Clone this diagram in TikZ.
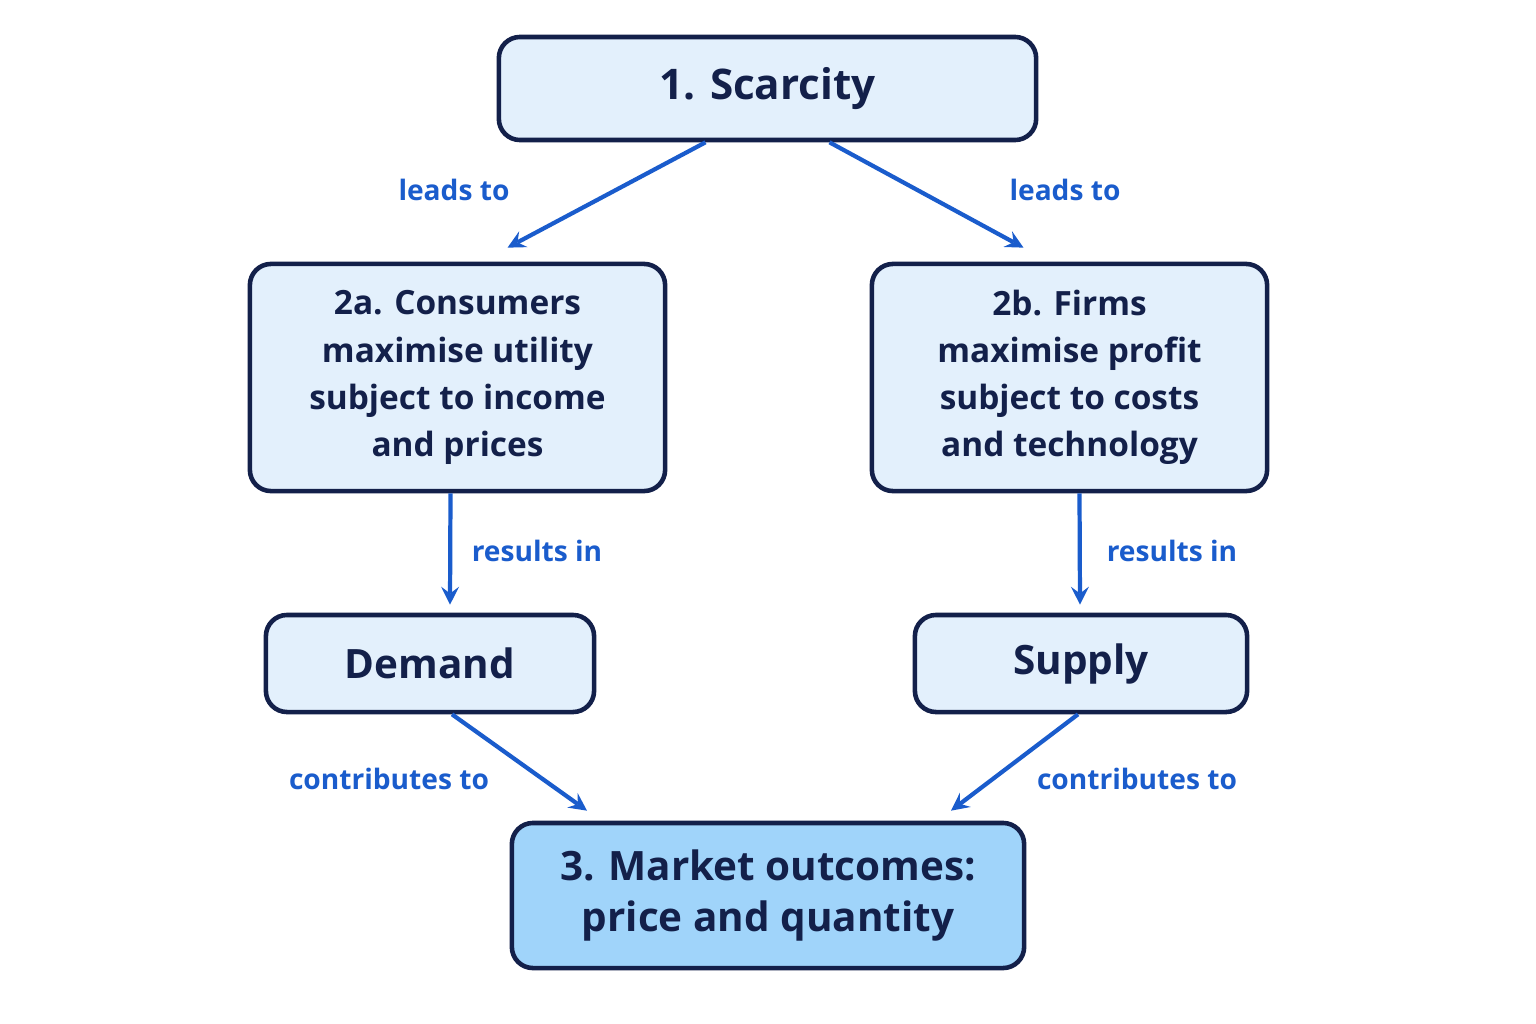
\documentclass[tikz,border=0pt]{standalone}
\usepackage{fontspec}
\setmainfont{Open Sans}
\usetikzlibrary{calc}
\definecolor{kNavy}{HTML}{13204A}
\definecolor{kFill}{HTML}{E3F0FC}
\definecolor{kMarket}{HTML}{A0D4FA}
\definecolor{kBlue}{HTML}{1A5CCC}
\tikzset{
  box/.style={draw=kNavy,line width=1.3pt,rounded corners=6pt,fill=kFill,
    text=kNavy,font=\bfseries,align=center,inner sep=0pt},
  link/.style={draw=kBlue,line width=1.2pt,->,>=stealth},
  tag/.style={text=kBlue,font=\fontsize{8}{10}\selectfont\bfseries}
}
\begin{document}
\begin{tikzpicture}[x=0.01cm,y=-0.01cm]
  \useasboundingbox (0,0) rectangle (1536,1024);
  % boxes
  \node[box,minimum width=5.37cm,minimum height=1.03cm,font=\fontsize{12}{14}\selectfont\bfseries] (scar) at (767.5,88.5) {1. Scarcity};
  \node[box,minimum width=4.15cm,minimum height=2.27cm,font=\fontsize{9.5}{13.4}\selectfont\bfseries] (cons) at (457.5,377.5)
    {2a. Consumers\\maximise utility\\subject to income\\and prices};
  \node[box,minimum width=3.95cm,minimum height=2.27cm,font=\fontsize{9.5}{13.4}\selectfont\bfseries] (firm) at (1069.5,377.5)
    {2b. Firms\\maximise profit\\subject to costs\\and technology};
  \node[box,minimum width=3.28cm,minimum height=0.97cm,font=\fontsize{11.5}{14}\selectfont\bfseries] (dem) at (430,663.5) {Demand};
  \node[box,minimum width=3.32cm,minimum height=0.97cm,font=\fontsize{11.5}{14}\selectfont\bfseries] (sup) at (1081,663.5) {Supply};
  \node[box,fill=kMarket,minimum width=5.12cm,minimum height=1.45cm,font=\fontsize{11.5}{14.5}\selectfont\bfseries] (mkt) at (768,895.5)
    {3. Market outcomes:\\price and quantity};
  % connectors
  \draw[link] ($(scar.south)+(-62,0)$) -- ($(cons.north)+(50,-14)$);
  \draw[link] ($(scar.south)+(62,0)$) -- ($(firm.north)+(-46,-14)$);
  \draw[link] ($(cons.south)+(-7,0)$) -- ($(dem.north)+(20,-8)$);
  \draw[link] ($(firm.south)+(10,0)$) -- ($(sup.north)+(-1,-8)$);
  \draw[link] ($(dem.south)+(22,0)$) -- ($(mkt.north)+(-181,-10)$);
  \draw[link] ($(sup.south)+(-3,0)$) -- ($(mkt.north)+(183,-10)$);
  % labels
  \node[tag] (l1) at (454,190) {leads to};
  \node[tag] (l2) at (1065,190) {leads to};
  \node[tag] (r1) at (537,551) {results in};
  \node[tag] (r2) at (1172,551) {results in};
  \node[tag] (c1) at (389,779) {contributes to};
  \node[tag] (c2) at (1137,779) {contributes to};
\end{tikzpicture}
\end{document}
